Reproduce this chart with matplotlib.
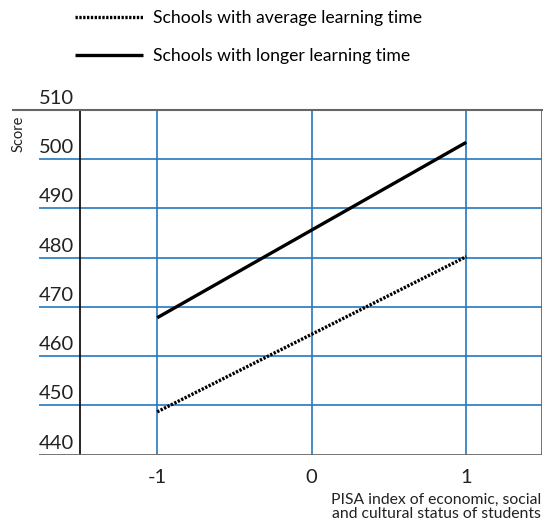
import matplotlib
matplotlib.use("Agg")
import matplotlib.pyplot as plt
import matplotlib.transforms as mtransforms

# data
escs = [-1, 1]
avg_time = [448.7, 480.2]
longer_time = [467.8, 503.4]
y_ticks = [440, 450, 460, 470, 480, 490, 500, 510]
x_ticks = [-1, 0, 1]
series_names = ["Schools with average learning time", "Schools with longer learning time"]

plt.rcParams["font.family"] = ["Lato", "DejaVu Sans"]

grid_blue = "#2479c0"
frame_grey = "#666666"
text_col = "#222222"

fig = plt.figure(figsize=(5.44, 5.26), dpi=100)
W, H = 544, 526
ax = fig.add_axes([39 / W, (H - 454.7) / H, (542 - 39) / W, (454.7 - 109.8) / H])
ax.set_xlim(-1.765, 1.49)
ax.set_ylim(440, 510)

for s in ax.spines.values():
    s.set_visible(False)

# horizontal grid lines, they run out into the label area
for v in y_ticks[1:-1]:
    ax.axhline(v, color=grid_blue, lw=1.2, zorder=1)
for v in x_ticks:
    ax.axvline(v, color=grid_blue, lw=1.2, zorder=1)

# frame
ax.axvline(-1.5, color="black", lw=1.2, zorder=2)
ax.axvline(1.49, color=frame_grey, lw=2, zorder=2)
ax.axhline(440, color=frame_grey, lw=2, zorder=2)
ax.plot([-(39 - 13) / 503, 1.0], [1, 1], transform=ax.transAxes,
        color=frame_grey, lw=1.5, clip_on=False, zorder=2)

ax.plot(escs, avg_time, color="black", lw=2.4, linestyle=(0, (0.7, 0.45)),
        solid_capstyle="butt", dash_capstyle="butt", zorder=3, label=series_names[0])
ax.plot(escs, longer_time, color="black", lw=2.4, solid_capstyle="butt",
        zorder=3, label=series_names[1])

# y labels sit above each grid line, left-aligned
trans = mtransforms.blended_transform_factory(ax.transAxes, ax.transData)
for v in y_ticks:
    ax.text(0.0, v + 0.6, str(v), transform=trans, ha="left", va="bottom",
            fontsize=14.5, color=text_col)
ax.set_yticks([])

ax.set_xticks(x_ticks)
ax.set_xticklabels([str(v) for v in x_ticks], fontsize=14.5, color=text_col)
ax.tick_params(axis="x", length=0, pad=10)

fig.text(19 / W, 1 - 134 / H, "Score", rotation=90, ha="center", va="center",
         fontsize=10.5, color=text_col)
fig.text(541 / W, 1 - 507 / H,
         "PISA index of economic, social\nand cultural status of students",
         ha="right", va="center", multialignment="right", fontsize=11.3,
         color=text_col, linespacing=1.0)

fig.legend(loc="upper left", bbox_to_anchor=(75 / W, 1 - 10 / H), frameon=False,
           fontsize=12.7, handlelength=3.85, handletextpad=0.57, labelspacing=1.27,
           borderpad=0, borderaxespad=0)

fig.savefig("out.png", dpi=100)
